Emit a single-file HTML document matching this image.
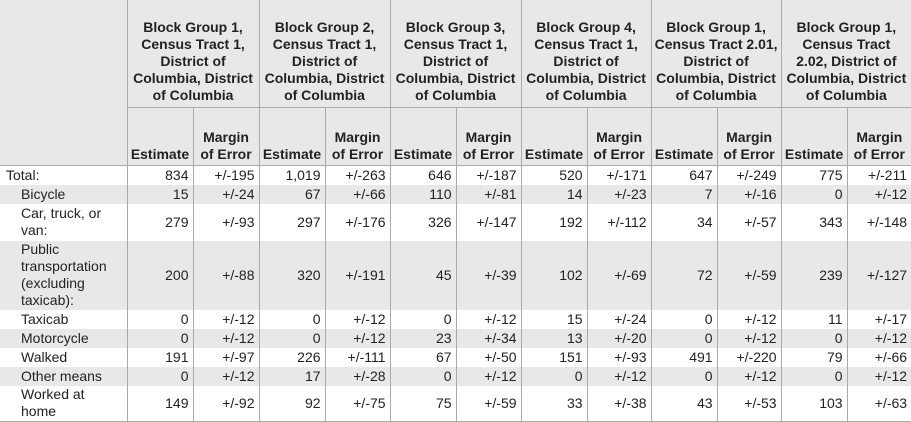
<!DOCTYPE html>
<html><head><meta charset="utf-8"><style>
html,body{margin:0;padding:0;background:#fff;}
body{width:911px;height:421px;overflow:hidden;font-family:"Liberation Sans",Arial,sans-serif;font-size:14px;color:#222;}
table{border-collapse:collapse;table-layout:fixed;width:911px;}
td,th{padding:0 3px;line-height:17px;border-right:1px solid #aaa;overflow:hidden;white-space:nowrap;}
th{background:#e8e8e8;font-weight:bold;text-align:center;vertical-align:bottom;padding:0;}
th.g{vertical-align:bottom;height:96px;padding-bottom:3px;padding-top:8px;border-bottom:1px solid #aaa;}
tr.h2 th{height:55px;border-bottom:1px solid #aaa;padding-bottom:2px;}
td{text-align:right;vertical-align:middle;padding-right:4px;}
td.l{text-align:left;padding-left:21px;}
td.t{padding-left:6px;text-align:left;}
tr.a td{background:#e8e8e8;}
tr.last td{border-bottom:1px solid #aaa;}
th:last-child,td:last-child{border-right:none;}
</style></head><body>
<table>
<colgroup><col style="width:127px"><col style="width:66px"><col style="width:66px"><col style="width:66px"><col style="width:65px"><col style="width:66px"><col style="width:65px"><col style="width:66px"><col style="width:64px"><col style="width:66px"><col style="width:64px"><col style="width:66px"><col style="width:64px"></colgroup>
<tr>
<th rowspan="2" style="border-bottom:1px solid #aaa"></th>
<th class="g" colspan="2">Block Group 1,<br>Census Tract 1,<br>District of<br>Columbia, District<br>of Columbia</th>
<th class="g" colspan="2">Block Group 2,<br>Census Tract 1,<br>District of<br>Columbia, District<br>of Columbia</th>
<th class="g" colspan="2">Block Group 3,<br>Census Tract 1,<br>District of<br>Columbia, District<br>of Columbia</th>
<th class="g" colspan="2">Block Group 4,<br>Census Tract 1,<br>District of<br>Columbia, District<br>of Columbia</th>
<th class="g" colspan="2">Block Group 1,<br>Census Tract 2.01,<br>District of<br>Columbia, District<br>of Columbia</th>
<th class="g" colspan="2">Block Group 1,<br>Census Tract<br>2.02, District of<br>Columbia, District<br>of Columbia</th>
</tr>
<tr class="h2">
<th>Estimate</th><th>Margin<br>of Error</th>
<th>Estimate</th><th>Margin<br>of Error</th>
<th>Estimate</th><th>Margin<br>of Error</th>
<th>Estimate</th><th>Margin<br>of Error</th>
<th>Estimate</th><th>Margin<br>of Error</th>
<th>Estimate</th><th>Margin<br>of Error</th>
</tr>
<tr style="height:19px"><td class="t">Total:</td><td>834</td><td>+/-195</td><td>1,019</td><td>+/-263</td><td>646</td><td>+/-187</td><td>520</td><td>+/-171</td><td>647</td><td>+/-249</td><td>775</td><td>+/-211</td></tr>
<tr class="a" style="height:19px"><td class="l">Bicycle</td><td>15</td><td>+/-24</td><td>67</td><td>+/-66</td><td>110</td><td>+/-81</td><td>14</td><td>+/-23</td><td>7</td><td>+/-16</td><td>0</td><td>+/-12</td></tr>
<tr style="height:37px"><td class="l">Car, truck, or<br>van:</td><td>279</td><td>+/-93</td><td>297</td><td>+/-176</td><td>326</td><td>+/-147</td><td>192</td><td>+/-112</td><td>34</td><td>+/-57</td><td>343</td><td>+/-148</td></tr>
<tr class="a" style="height:69px"><td class="l">Public<br>transportation<br>(excluding<br>taxicab):</td><td>200</td><td>+/-88</td><td>320</td><td>+/-191</td><td>45</td><td>+/-39</td><td>102</td><td>+/-69</td><td>72</td><td>+/-59</td><td>239</td><td>+/-127</td></tr>
<tr style="height:19px"><td class="l">Taxicab</td><td>0</td><td>+/-12</td><td>0</td><td>+/-12</td><td>0</td><td>+/-12</td><td>15</td><td>+/-24</td><td>0</td><td>+/-12</td><td>11</td><td>+/-17</td></tr>
<tr class="a" style="height:19px"><td class="l">Motorcycle</td><td>0</td><td>+/-12</td><td>0</td><td>+/-12</td><td>23</td><td>+/-34</td><td>13</td><td>+/-20</td><td>0</td><td>+/-12</td><td>0</td><td>+/-12</td></tr>
<tr style="height:19px"><td class="l">Walked</td><td>191</td><td>+/-97</td><td>226</td><td>+/-111</td><td>67</td><td>+/-50</td><td>151</td><td>+/-93</td><td>491</td><td>+/-220</td><td>79</td><td>+/-66</td></tr>
<tr class="a" style="height:19px"><td class="l">Other means</td><td>0</td><td>+/-12</td><td>17</td><td>+/-28</td><td>0</td><td>+/-12</td><td>0</td><td>+/-12</td><td>0</td><td>+/-12</td><td>0</td><td>+/-12</td></tr>
<tr class="last" style="height:36px"><td class="l">Worked at<br>home</td><td>149</td><td>+/-92</td><td>92</td><td>+/-75</td><td>75</td><td>+/-59</td><td>33</td><td>+/-38</td><td>43</td><td>+/-53</td><td>103</td><td>+/-63</td></tr>
</table>
</body></html>
